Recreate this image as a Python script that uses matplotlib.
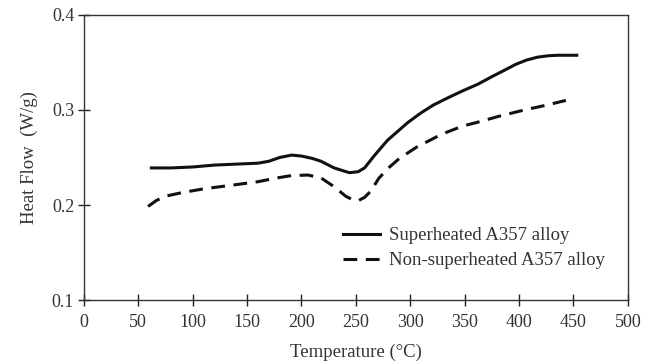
import matplotlib.pyplot as plt
import numpy as np

# Dados
temp_super = [62, 80, 100, 120, 140, 160, 170, 180, 191, 200, 210, 218, 230, 244, 252, 258, 267, 279, 290, 298, 310, 321, 335, 348, 362, 375, 387, 397, 407, 417, 427, 436, 445, 453]
hf_super = [0.239, 0.239, 0.240, 0.242, 0.243, 0.244, 0.246, 0.250, 0.2525, 0.2515, 0.249, 0.246, 0.239, 0.234, 0.235, 0.239, 0.252, 0.268, 0.279, 0.287, 0.297, 0.305, 0.313, 0.320, 0.327, 0.335, 0.342, 0.348, 0.3525, 0.3555, 0.357, 0.3575, 0.3575, 0.3575]

temp_non = [59, 67, 76, 90, 110, 137, 160, 175, 191, 206, 218, 229, 241, 248, 252, 258, 264, 271, 280, 290, 306, 329, 348, 365, 382, 405, 425, 443]
hf_non = [0.1985, 0.205, 0.2095, 0.213, 0.217, 0.221, 0.2245, 0.228, 0.231, 0.2315, 0.2285, 0.220, 0.209, 0.205, 0.2045, 0.208, 0.215, 0.228, 0.239, 0.249, 0.261, 0.2745, 0.283, 0.288, 0.2935, 0.300, 0.305, 0.310]

plt.rcParams['font.family'] = ['Liberation Serif', 'DejaVu Serif']
cor_texto = '#333333'

fig = plt.figure(figsize=(6.5, 3.62), dpi=100)
ax = fig.add_axes([0.129, 0.171, 0.837, 0.788])

ax.plot(temp_super, hf_super, color='#111111', lw=2.2, label='Superheated A357 alloy')
ax.plot(temp_non, hf_non, color='#111111', lw=2.2, ls=(0, (4.5, 2.8)), label='Non-superheated A357 alloy')

ax.set_xlim(0, 500)
ax.set_ylim(0.1, 0.4)
ax.set_xticks(np.arange(0, 501, 50))
ax.set_yticks([0.1, 0.2, 0.3, 0.4])
ax.set_yticklabels(['0.1', '0.2', '0.3', '0.4'])
ax.tick_params(direction='inout', length=8, width=1, colors='#222222', labelcolor=cor_texto, labelsize=13)
ax.tick_params(axis='x', pad=6)
ax.tick_params(axis='y', pad=3)
for s in ax.spines.values():
    s.set_color('#333333')
    s.set_linewidth(1)

ax.set_xlabel('Temperature (°C)', fontsize=13.5, color=cor_texto, labelpad=9)
ax.set_ylabel('Heat Flow  (W/g)', fontsize=13.5, color=cor_texto, labelpad=10)

leg = ax.legend(loc='upper left', bbox_to_anchor=(0.476, 0.255), frameon=False, fontsize=13.5,
                handlelength=2.0, handletextpad=0.45, labelspacing=0.42,
                borderpad=0, borderaxespad=0)
for t in leg.get_texts():
    t.set_color(cor_texto)

plt.savefig('out.png', dpi=100)
